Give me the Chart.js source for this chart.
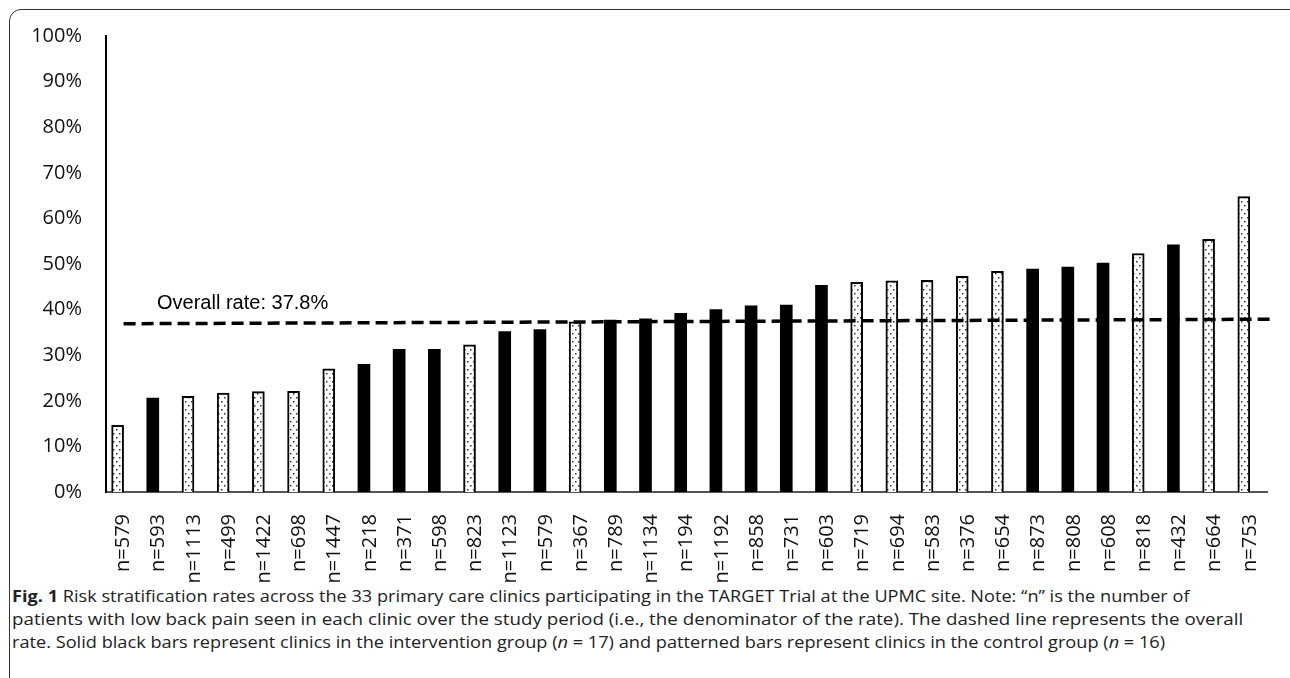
<!DOCTYPE html>
<html>
<head>
<meta charset="utf-8">
<script src="https://cdn.jsdelivr.net/npm/chart.js@4.4.1/dist/chart.umd.min.js"></script>
<style>
  body { margin: 0; background: #fff; width: 1290px; height: 678px; overflow: hidden; position: relative; }
  #frame { position: absolute; left: 9px; top: 9px; width: 1300px; height: 700px; border: 1.5px solid #333; border-radius: 12px 0 0 0; box-sizing: border-box; }
  #wrap { position: absolute; left: 10px; top: 8px; width: 1278px; height: 574px; }
  #caption { position: absolute; left: 12px; top: 584px; font-family: "Open Sans", sans-serif; font-size: 16.5px; line-height: 23px; color: #222; }
  #caption div { white-space: nowrap; transform-origin: 0 50%; }
</style>
</head>
<body>
<div id="frame"></div>
<div id="wrap"><canvas id="riskChart"></canvas></div>
<div id="caption">
  <div data-w="1191"><b>Fig. 1</b> Risk stratification rates across the 33 primary care clinics participating in the TARGET Trial at the UPMC site. Note: “n” is the number of</div>
  <div data-w="1231">patients with low back pain seen in each clinic over the study period (i.e., the denominator of the rate). The dashed line represents the overall</div>
  <div data-w="1193">rate. Solid black bars represent clinics in the intervention group (<i>n</i> = 17) and patterned bars represent clinics in the control group (<i>n</i> = 16)</div>
</div>
<script>
// clinic sizes (x labels), rates in %, and group: I = intervention (solid), C = control (patterned)
const clinics = ['n=579', 'n=593', 'n=1113', 'n=499', 'n=1422', 'n=698', 'n=1447', 'n=218', 'n=371', 'n=598', 'n=823',
  'n=1123', 'n=579', 'n=367', 'n=789', 'n=1134', 'n=194', 'n=1192', 'n=858', 'n=731', 'n=603', 'n=719',
  'n=694', 'n=583', 'n=376', 'n=654', 'n=873', 'n=808', 'n=608', 'n=818', 'n=432', 'n=664', 'n=753'];
const rates = [14.6, 20.6, 21.0, 21.7, 22.0, 22.1, 27.0, 28.0, 31.3, 31.3, 32.3,
  35.2, 35.6, 37.3, 37.7, 38.0, 39.2, 40.0, 40.8, 41.0, 45.3, 46.0,
  46.3, 46.4, 47.3, 48.4, 48.9, 49.3, 50.2, 52.3, 54.2, 55.4, 64.8];
const groups = ['C', 'I', 'C', 'C', 'C', 'C', 'C', 'I', 'I', 'I', 'C',
  'I', 'I', 'C', 'I', 'I', 'I', 'I', 'I', 'I', 'I', 'C',
  'C', 'C', 'C', 'C', 'I', 'I', 'I', 'C', 'I', 'C', 'C'];
// the dashed overall-rate line (drawn slightly off level in the original)
const overallLine = [{ x: 0, y: 36.9 }, { x: 32.73, y: 37.9 }];
const overallLabel = 'Overall rate: 37.8%';

// dotted fill for the control bars
function makeDots() {
    const c = document.createElement('canvas');
    c.width = 6; c.height = 8;
    const g = c.getContext('2d');
    g.fillStyle = '#fff';
    g.fillRect(0, 0, 6, 8);
    g.fillStyle = '#333';
    g.fillRect(1, 1, 1.5, 1.5);
    g.fillRect(4, 5, 1.5, 1.5);
    return g.createPattern(c, 'repeat');
}
const dots = makeDots();

// text label above the dashed line
const labelPlugin = {
    id: 'overallLabel',
    afterDatasetsDraw(chart) {
        const ctx = chart.ctx;
        const x = chart.scales.xl.getPixelForValue(0.95);
        const y = chart.scales.y.getPixelForValue(41.4);
        ctx.save();
        ctx.font = '20px "Liberation Sans", Arial, sans-serif';
        ctx.fillStyle = '#000';
        ctx.textAlign = 'left';
        ctx.textBaseline = 'middle';
        ctx.fillText(overallLabel, x, y);
        ctx.restore();
    }
};

const ctx = document.getElementById('riskChart').getContext('2d');
new Chart(ctx, {
    data: {
        labels: clinics,
        datasets: [{
            type: 'bar',
            data: rates,
            backgroundColor: groups.map(g => g === 'I' ? '#000' : dots),
            borderColor: '#000',
            borderWidth: groups.map(g => g === 'I' ? 0 : 2),
            barThickness: 12,
            order: 2
        }, {
            type: 'line',
            data: overallLine,
            xAxisID: 'xl',
            borderColor: '#000',
            borderWidth: 3.5,
            borderDash: [12, 6],
            pointRadius: 0,
            fill: false,
            clip: false,
            order: 1
        }]
    },
    options: {
        responsive: true,
        maintainAspectRatio: false,
        animation: false,
        layout: { padding: { top: 8, right: 13 } },
        plugins: { legend: { display: false }, tooltip: { enabled: false } },
        scales: {
            x: {
                grid: { display: false },
                border: { display: true, color: '#555', width: 2 },
                ticks: {
                    maxRotation: 90, minRotation: 90, autoSkip: false, padding: 14,
                    color: '#111', font: { family: '"Open Sans", sans-serif', size: 20 }
                },
                afterFit: s => { s.height = 90; }
            },
            xl: {
                type: 'linear', display: false, min: -0.5, max: 32.5
            },
            y: {
                min: 0, max: 100,
                grid: { display: false },
                border: { display: true, color: '#000', width: 2 },
                ticks: {
                    stepSize: 10, padding: 16, color: '#111',
                    font: { family: '"Open Sans", sans-serif', size: 20 },
                    callback: v => v + '%'
                },
                afterFit: s => { s.width = 96; }
            }
        }
    },
    plugins: [labelPlugin]
});

// stretch each caption line to the width it has in the figure
document.querySelectorAll('#caption div').forEach(d => {
    const w = d.scrollWidth;
    d.style.transform = 'scaleX(' + (d.dataset.w / w) + ')';
});
</script>
</body>
</html>
